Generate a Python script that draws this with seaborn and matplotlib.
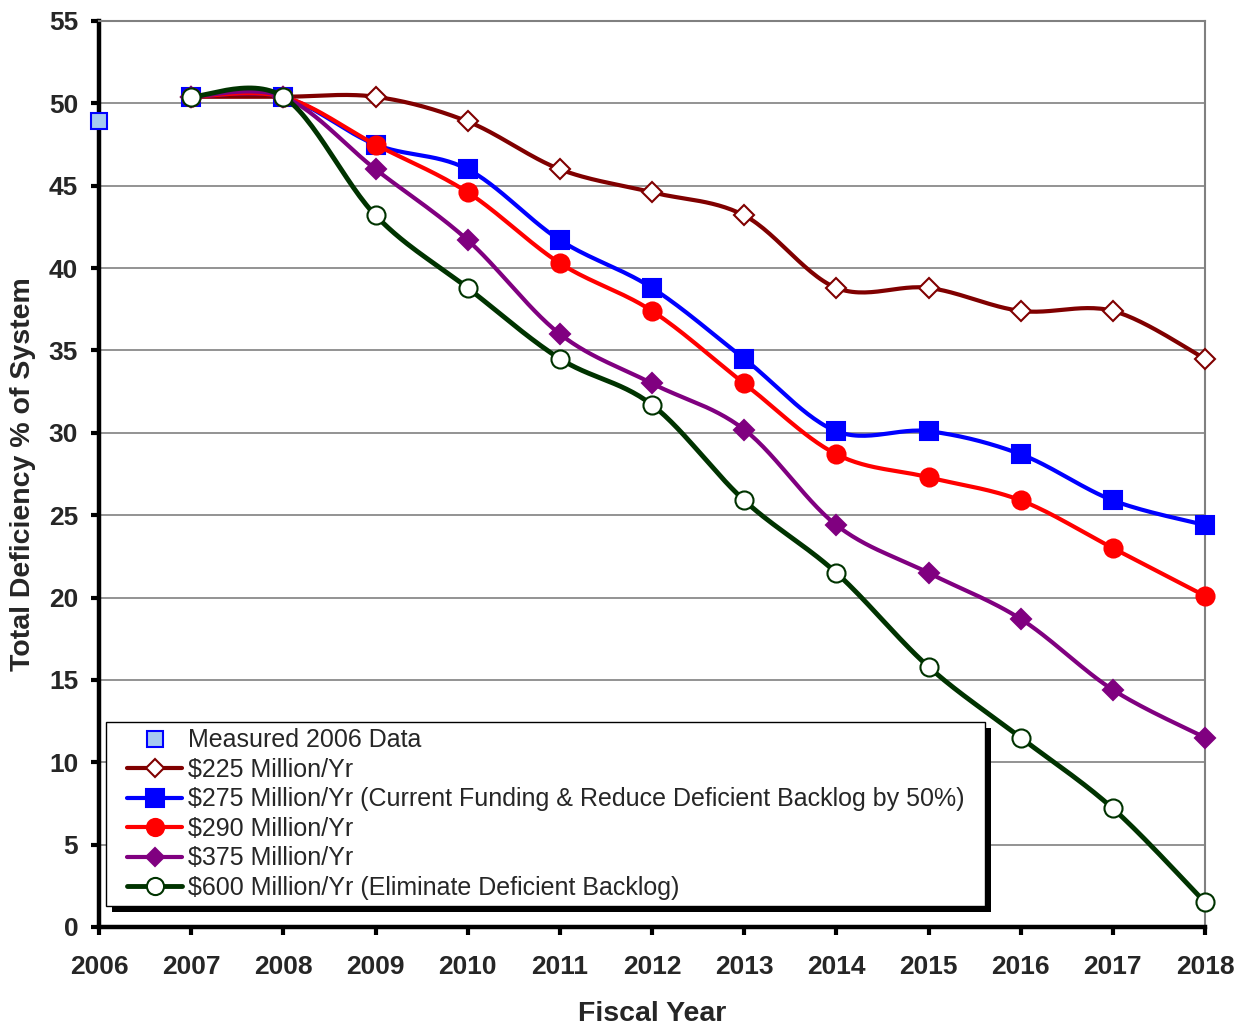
import numpy as np
import pandas as pd
import matplotlib
matplotlib.use("Agg")
import matplotlib.pyplot as plt
import matplotlib.patheffects as pe
from matplotlib.lines import Line2D
from matplotlib.legend_handler import HandlerLine2D
import seaborn as sns

# ---------------- data ----------------
years = [2007, 2008, 2009, 2010, 2011, 2012, 2013, 2014, 2015, 2016, 2017, 2018]
measured_year = [2006]
measured_value = [48.9]
s225 = [50.4, 50.4, 50.4, 48.9, 46.0, 44.6, 43.2, 38.8, 38.8, 37.4, 37.4, 34.5]
s275 = [50.4, 50.4, 47.5, 46.0, 41.7, 38.8, 34.5, 30.1, 30.1, 28.7, 25.9, 24.4]
s290 = [50.4, 50.4, 47.5, 44.6, 40.3, 37.4, 33.0, 28.7, 27.3, 25.9, 23.0, 20.1]
s375 = [50.4, 50.4, 46.0, 41.7, 36.0, 33.0, 30.2, 24.4, 21.5, 18.7, 14.4, 11.5]
s600 = [50.4, 50.4, 43.2, 38.8, 34.5, 31.7, 25.9, 21.5, 15.8, 11.5, 7.2, 1.5]
labels = ["$225 Million/Yr",
          "$275 Million/Yr (Current Funding & Reduce Deficient Backlog by 50%)",
          "$290 Million/Yr",
          "$375 Million/Yr",
          "$600 Million/Yr (Eliminate Deficient Backlog)"]
measured_label = "Measured 2006 Data"
x_ticks = list(range(2006, 2019))
y_ticks = list(range(0, 56, 5))

# ---------------- style ----------------
sns.set_theme(style="white")
plt.rcParams['font.family'] = ['Liberation Sans', 'DejaVu Sans']
plt.rcParams['text.parse_math'] = False

styles = [
    dict(color="#800000", marker="D", mfc="white", mec="#800000", ms=10, lw=3.0),
    dict(color="#0000FF", marker="s", mfc="#0000FF", mec="#0000FF", ms=13, lw=3.0),
    dict(color="#FF0000", marker="o", mfc="#FF0000", mec="#FF0000", ms=13, lw=3.0),
    dict(color="#800080", marker="D", mfc="#800080", mec="#800080", ms=10, lw=3.0),
    dict(color="#003300", marker="o", mfc="white", mec="#003300", ms=13, lw=3.5),
]
series = [s225, s275, s290, s375, s600]


def smooth(xs, ys, n=30):
    """Excel-style smoothed line (Bezier with Catmull-Rom tangents) through the data."""
    xs = np.asarray(xs, float)
    ys = np.asarray(ys, float)
    px = np.concatenate([[xs[0]], xs, [xs[-1]]])
    py = np.concatenate([[ys[0]], ys, [ys[-1]]])
    ox, oy = [], []
    t = np.linspace(0, 1, n)
    for i in range(1, len(px) - 2):
        p0 = np.array([px[i], py[i]])
        p3 = np.array([px[i + 1], py[i + 1]])
        c1 = p0 + (np.array([px[i + 1], py[i + 1]]) - np.array([px[i - 1], py[i - 1]])) / 6
        c2 = p3 - (np.array([px[i + 2], py[i + 2]]) - np.array([px[i], py[i]])) / 6
        b = ((1 - t) ** 3)[:, None] * p0 + (3 * (1 - t) ** 2 * t)[:, None] * c1 \
            + (3 * (1 - t) * t ** 2)[:, None] * c2 + (t ** 3)[:, None] * p3
        ox.extend(b[:, 0]); oy.extend(b[:, 1])
    return np.array(ox), np.array(oy)


fig = plt.figure(figsize=(12.47, 10.27), dpi=100)
ax = fig.add_axes([99 / 1247, 1 - 927 / 1027, (1205 - 99) / 1247, (927 - 21) / 1027])

for k, (vals, st) in enumerate(zip(series, styles)):
    sx, sy = smooth(years, vals)
    df = pd.DataFrame({"x": sx, "y": sy})
    sns.lineplot(data=df, x="x", y="y", sort=False, estimator=None, ax=ax,
                 color=st["color"], lw=st["lw"], zorder=3 + 2 * k, clip_on=False)
    ax.plot(years, vals, ls="none", marker=st["marker"], ms=st["ms"],
            mfc=st["mfc"], mec=st["mec"], mew=1.5, zorder=4 + 2 * k, clip_on=False)

ax.plot(measured_year, measured_value, ls="none", marker="s", ms=12,
        mfc="#A6CAF0", mec="#0000FF", mew=1.5, zorder=20, clip_on=False)

ax.set_xlim(2006, 2018)
ax.set_ylim(0, 55)
ax.set_xticks(x_ticks)
ax.set_yticks(y_ticks)
ax.set_xticklabels([str(v) for v in x_ticks], fontsize=19, fontweight="bold")
ax.set_yticklabels([str(v) for v in y_ticks], fontsize=19, fontweight="bold")
ax.tick_params(axis="both", direction="out", length=6, width=3, color="black",
               bottom=True, left=True)
ax.tick_params(axis="x", pad=14)
ax.tick_params(axis="y", pad=9)
ax.yaxis.grid(True, color="#808080", lw=1.2)
ax.xaxis.grid(False)
ax.set_axisbelow(True)
for side in ["left", "bottom"]:
    ax.spines[side].set_color("black")
    ax.spines[side].set_linewidth(3.2)
for side in ["top", "right"]:
    ax.spines[side].set_color("#808080")
    ax.spines[side].set_linewidth(1.5)
    ax.spines[side].set_visible(True)

ax.set_xlabel("Fiscal Year", fontsize=20.5, fontweight="bold")
ax.set_ylabel("Total Deficiency % of System", fontsize=20.5, fontweight="bold")
ax.xaxis.set_label_coords(0.5, (927 - 1001) / 907)
ax.yaxis.set_label_coords((36 - 99) / 1106, 0.5)

handles = [Line2D([], [], ls="none", marker="s", ms=11, mfc="#A6CAF0", mec="#0000FF", mew=1.5)]
for st in styles:
    handles.append(Line2D([], [], color=st["color"], lw=st["lw"], marker=st["marker"],
                          ms=st["ms"] * 0.95, mfc=st["mfc"], mec=st["mec"], mew=1.5))
hmap = {h: HandlerLine2D(xpad=0.6) for h in handles}
leg = ax.legend(handles, [measured_label] + labels, loc="lower left",
                bbox_to_anchor=(7 / 1106, 21 / 907, 879 / 1106, 0.2), mode="expand",
                borderaxespad=0, fontsize=18,
                frameon=True, fancybox=False, edgecolor="black", framealpha=1,
                handlelength=2.8, handletextpad=0.25, labelspacing=0.22,
                borderpad=0.25, handler_map=hmap)
leg.get_frame().set_linewidth(1.0)
leg.get_frame().set_path_effects([
    pe.SimplePatchShadow(offset=(4, -4), shadow_rgbFace="black", alpha=1.0),
    pe.Normal()])
leg.set_zorder(30)

fig.savefig("out.png", dpi=100)
